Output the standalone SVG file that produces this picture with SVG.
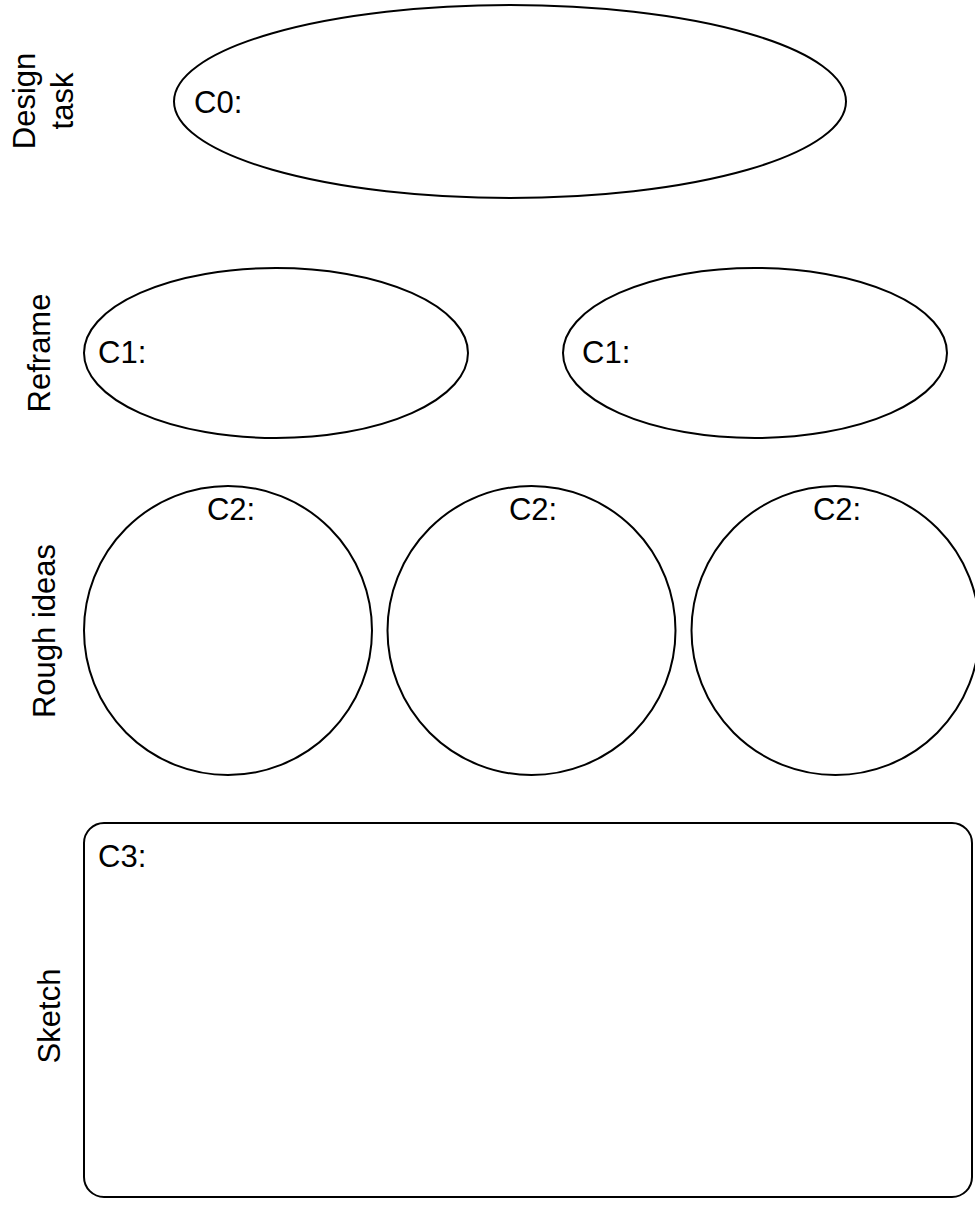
<svg xmlns="http://www.w3.org/2000/svg" width="975" height="1207" viewBox="0 0 975 1207">
<style>
.shape{fill:#fff;stroke:#000;stroke-width:2}
.t{font-family:"Liberation Sans",Arial,sans-serif;font-size:31px;fill:#000}
.m{text-anchor:middle}
</style>
<rect width="975" height="1207" fill="#fff"/>
<g id="row-labels">
<text class="t m" transform="translate(35,101) rotate(-90)">Design</text>
<text class="t m" transform="translate(73,101) rotate(-90)">task</text>
<text class="t m" transform="translate(50,353) rotate(-90)">Reframe</text>
<text class="t m" transform="translate(55,631) rotate(-90)">Rough ideas</text>
<text class="t m" transform="translate(60,1016) rotate(-90)">Sketch</text>
</g>
<g id="c0">
<ellipse class="shape" cx="510" cy="101.5" rx="336" ry="96.5"/>
<text class="t" x="194" y="113">C0:</text>
</g>
<g id="c1-left">
<ellipse class="shape" cx="276" cy="353" rx="192" ry="85"/>
<text class="t" x="98" y="363">C1:</text>
</g>
<g id="c1-right">
<ellipse class="shape" cx="755" cy="353" rx="192" ry="85"/>
<text class="t" x="582" y="363">C1:</text>
</g>
<g id="c2-1">
<ellipse class="shape" cx="228" cy="630.5" rx="144" ry="144.5"/>
<text class="t m" x="231" y="520">C2:</text>
</g>
<g id="c2-2">
<ellipse class="shape" cx="531.5" cy="630.5" rx="144" ry="144.5"/>
<text class="t m" x="533" y="520">C2:</text>
</g>
<g id="c2-3">
<ellipse class="shape" cx="835.5" cy="630.5" rx="144" ry="144.5"/>
<text class="t m" x="837" y="520">C2:</text>
</g>
<g id="c3">
<rect class="shape" x="84" y="823" width="888" height="374" rx="20" ry="20"/>
<text class="t" x="98" y="867">C3:</text>
</g>
<g id="connectors"></g>
</svg>
